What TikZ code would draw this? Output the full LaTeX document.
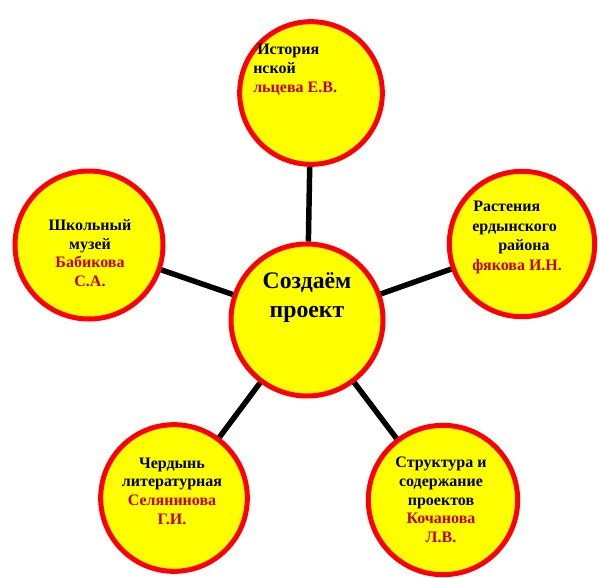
\documentclass[tikz,border=0pt]{standalone}
\usepackage{fontspec}
\setmainfont{Liberation Serif}
\definecolor{bred}{HTML}{FF0000}
\definecolor{byel}{HTML}{FFFF00}
\definecolor{tred}{HTML}{C00000}
\begin{document}
\begin{tikzpicture}[x=0.75pt,y=-0.75pt,
  bub/.style={circle,draw=bred,fill=byel,line width=3.75pt,inner sep=0pt,minimum size=#1},
  link/.style={line width=4.1pt,black},
  lbl/.style={font=\bfseries\fontsize{12}{14}\selectfont,inner sep=0pt,align=center},
  big/.style={font=\bfseries\fontsize{17.8}{21.75}\selectfont,inner sep=0pt,align=center},
  nm/.style={text=tred}]
\useasboundingbox (0,0) rectangle (600,578);
\node[bub=114pt] (C) at (307,320) {};
\node[bub=107pt] (T) at (311,93) {};
\node[bub=109pt] (R) at (522,244) {};
\node[bub=111pt] (L) at (89,245) {};
\node[bub=110pt] (BL) at (174,498) {};
\node[bub=112pt] (BR) at (443,500) {};
\draw[link] (C) -- (T);
\draw[link] (C) -- (R);
\draw[link] (C) -- (L);
\draw[link] (C) -- (BL);
\draw[link] (C) -- (BR);
% centre
\node[big] (tc) at (307,298) {Создаём\\проект};
% top (clipped lines)
\node[lbl,anchor=base west] (t1) at (257,54) {История};
\node[lbl,anchor=base west] (t2) at (253,73) {нской};
\node[lbl,anchor=base west,nm] (t3) at (253,92) {льцева Е.В.};
% right (clipped lines)
\node[lbl,anchor=base west] (r1) at (473,211) {Растения};
\node[lbl,anchor=base west] (r2) at (472,231) {ердынского};
\node[lbl,anchor=base west] (r3) at (498,250) {района};
\node[lbl,anchor=base west,nm] (r4) at (472,270) {фякова И.Н.};
% left
\node[lbl] (tl) at (90,253) {Школьный\\музей\\\textcolor{tred}{Бабикова}\\\textcolor{tred}{С.А.}};
% bottom left
\node[lbl] (tbl) at (172,491) {Чердынь\\литературная\\\textcolor{tred}{Селянинова}\\\textcolor{tred}{Г.И.}};
% bottom right
\node[lbl] (tbr) at (441,500) {Структура и\\содержание\\проектов\\\textcolor{tred}{Кочанова}\\\textcolor{tred}{Л.В.}};
\end{tikzpicture}
\end{document}
